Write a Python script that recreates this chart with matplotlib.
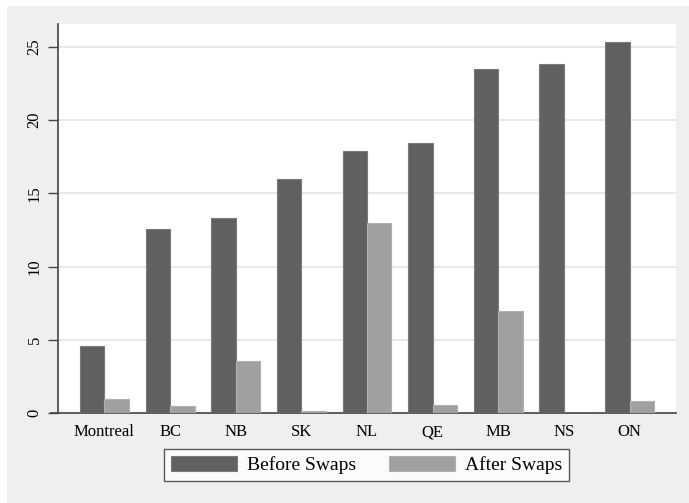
import matplotlib
matplotlib.use("Agg")
import matplotlib.pyplot as plt
from matplotlib.patches import Rectangle
import numpy as np

regions = ["Montreal", "BC", "NB", "SK", "NL", "QE", "MB", "NS", "ON"]
before_swaps = [4.6, 12.55, 13.35, 15.95, 17.9, 18.45, 23.45, 23.85, 25.35]
after_swaps = [0.98, 0.5, 3.55, 0.15, 12.98, 0.55, 6.97, 0.0, 0.85]
y_ticks = [0, 5, 10, 15, 20, 25]

plt.rcParams["font.family"] = ["Liberation Serif", "DejaVu Serif"]

W, H, DPI = 689, 503, 100
fig = plt.figure(figsize=(W / DPI, H / DPI), dpi=DPI, facecolor="white")

# grey graph region behind the plot
fig.patches.append(Rectangle((7 / W, 0), 1 - 7 / W, 1 - 6 / H,
                             transform=fig.transFigure, facecolor="#efefef",
                             edgecolor="none", zorder=-10))

left, right, top, bottom = 58, 676, 24, 413.3
ax = fig.add_axes([left / W, 1 - bottom / H, (right - left) / W, (bottom - top) / H])
ax.set_facecolor("white")

x = np.arange(len(regions))
bw = 0.373
dark, light = "#606060", "#a0a0a0"
ax.bar(x - bw / 2, before_swaps, width=bw, color=dark, edgecolor="#7a7a7a",
       linewidth=0.8, zorder=3, label="Before Swaps")
ax.bar(x + bw / 2, after_swaps, width=bw, color=light, edgecolor="#b0b0b0",
       linewidth=0.8, zorder=3, label="After Swaps")

ax.set_xlim(-0.706, len(regions) - 1 + 0.706)
ax.set_ylim(0, 26.55)
ax.set_yticks(y_ticks)
ax.set_yticklabels([str(v) for v in y_ticks], rotation=90, va="center", fontsize=12)
ax.set_xticks(x)
ax.set_xticklabels(regions, fontsize=12)
ax.tick_params(axis="x", length=0, pad=8)
ax.tick_params(axis="y", length=7, width=1.0, color="#444444", pad=4)

ax.grid(axis="y", color="#e4e4e4", linewidth=1.2, zorder=0)
ax.set_axisbelow(True)
for s in ("top", "right"):
    ax.spines[s].set_visible(False)
for s in ("left", "bottom"):
    ax.spines[s].set_color("#444444")
    ax.spines[s].set_linewidth(1.2)
ax.spines["bottom"].set_bounds(-0.706 - 7 / 65.6, len(regions) - 1 + 0.706)

leg = fig.legend(loc="center", bbox_to_anchor=(366.5 / W, 1 - 465 / H), ncol=2,
                 fontsize=14, frameon=True, fancybox=False, edgecolor="#333333",
                 handlelength=3.4, handleheight=0.85, columnspacing=1.7,
                 handletextpad=0.5, borderpad=0.35)
leg.get_frame().set_linewidth(1.0)

fig.savefig("out.png", dpi=DPI, facecolor="white")
